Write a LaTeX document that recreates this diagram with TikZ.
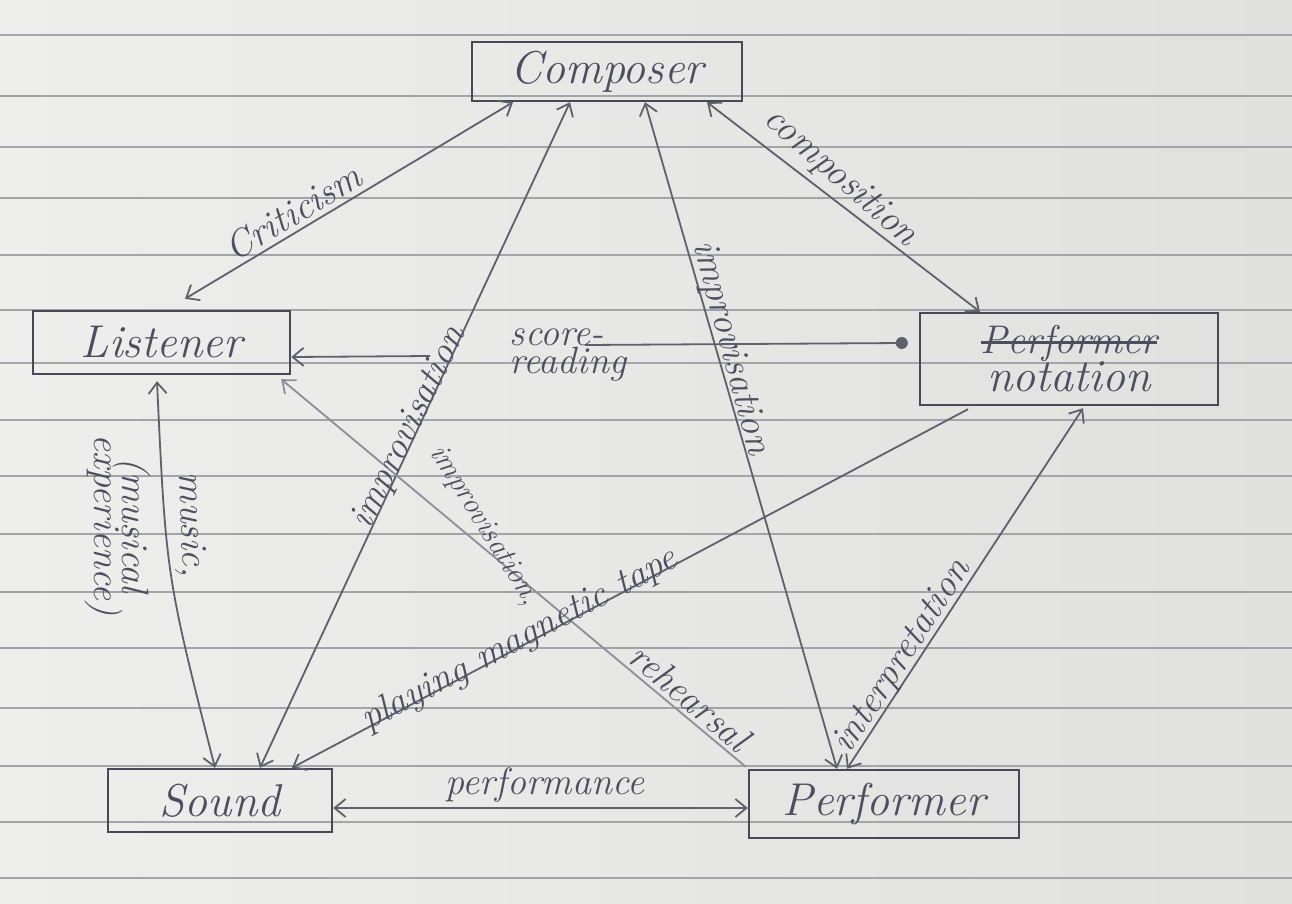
\documentclass[tikz,border=0pt]{standalone}
\usepackage{fontspec}
\usetikzlibrary{arrows.meta,calc}

\newlength\strkwd
\newcommand\strk[1]{\settowidth{\strkwd}{#1}\rlap{\rule[0.24em]{\strkwd}{3pt}}#1}

\definecolor{paperL}{RGB}{238,238,236}
\definecolor{paperR}{RGB}{224,224,223}
\definecolor{ruleline}{RGB}{163,164,170}
\definecolor{boxcol}{RGB}{72,72,88}
\definecolor{pencil}{RGB}{96,96,108}
\definecolor{pencilL}{RGB}{142,142,152}
\definecolor{inkcol}{RGB}{78,78,96}

\tikzset{
  box/.style={draw=boxcol, line width=2.4pt, rectangle, inner sep=0pt,
    font=\fontsize{46}{50}\selectfont\itshape, text=inkcol},
  lbl/.style={inner sep=0pt, font=\fontsize{38}{42}\selectfont\itshape, text=inkcol},
  smalllbl/.style={lbl, font=\fontsize{30}{34}\selectfont\itshape},
  conn/.style={draw=pencil, line width=1.8pt},
  >={Straight Barb[length=11pt,width=18pt]}
}

\begin{document}
\begin{tikzpicture}[x=1pt,y=1pt,yscale=-1,xscale=1]
    \useasboundingbox (0,0) rectangle (1292,903);

    % paper
    \shade[left color=paperL, right color=paperR] (0,0) rectangle (1292,903);
    \foreach \y in {35,96,147,198,255,310,363,420,476,534,592,648,708,766,822,878}
      \draw[ruleline, line width=1.4pt] (0,\y) -- (1292,\y);

    % Boxes
    \node[box, minimum width=270pt, minimum height=59pt] (comp) at (607,71.5) {Composer};
    \node[box, minimum width=257pt, minimum height=63pt] (lis) at (161.5,342.5) {Listener};
    \node[box, minimum width=298pt, minimum height=92pt, align=center] (nota) at (1069,359)
      {{\fontsize{40}{44}\selectfont\strk{Performer}}\\[-12pt]notation};
    \node[box, minimum width=224pt, minimum height=63pt] (snd) at (220,800.5) {Sound};
    \node[box, minimum width=270pt, minimum height=68pt] (perf) at (884,804) {Performer};

    % Connectors
    \draw[conn, <->] ($(comp.south)+(-94,0)$) -- ($(lis.north)+(23.5,-11)$);
    \draw[conn, <->] ($(comp.south)+(-37,0)$) -- ($(snd.north)+(40,0)$);
    \draw[conn, <->] ($(comp.south)+(38,0)$) -- ($(perf.north)+(-47,0)$);
    \draw[conn, <->] ($(comp.south)+(100,0)$) -- ($(nota.north)+(-89,0)$);
    \coordinate (srR) at (585,345);
    \coordinate (srL) at (430,356);
    \draw[conn] ($(nota.west)+(-17,-16)$) -- (srR);
    \draw[conn, ->] (srL) -- ($(lis.east)+(0,14.5)$);
    \fill[pencil] ($(nota.west)+(-17,-16)$) circle (6);
    \draw[conn, <->] ($(lis.south)+(-4.5,6)$) .. controls (166,575) .. ($(snd.north)+(-5,0)$);
    \draw[conn, draw=pencilL, <-] ($(lis.south east)+(-10,4)$) -- ($(perf.north west)+(-2,-2)$);
    \draw[conn, ->] ($(nota.south)+(-101,3)$) -- ($(snd.north)+(72,0)$);
    \draw[conn, <->] ($(nota.south)+(14,2)$) -- ($(perf.north)+(-37,0)$);
    \draw[conn, <->] ($(snd.east)+(0,7.5)$) -- ($(perf.west)+(0,4)$);

    % Text Nodes
    \node[lbl, rotate=31] (critlbl) at (293,212) {Criticism};
    \node[lbl, rotate=-41] (complbl) at (840,178) {composition};
    \node[lbl, rotate=64] (imp1lbl) at (410,428) {improvisation};
    \node[lbl, rotate=-75] (imp3lbl) at (730,348) {improvisation};
    \node[lbl, align=left] (scorelbl) at (568,355) {score-\\[-14pt]reading};
    \node[lbl, rotate=-88] (muslbl) at (190,525) {music,};
    \node[lbl, rotate=-90, align=center] (explbl) at (118,525) {(musical\\[-14pt]experience)};
    \node[smalllbl, rotate=-58] (imp2lbl) at (484,526) {improvisation,};
    \node[lbl, rotate=-40] (rehlbl) at (690,697) {rehearsal};
    \node[lbl, rotate=28] (tapelbl) at (520,640) {playing magnetic tape};
    \node[lbl, rotate=57] (intlbl) at (903,657) {interpretation};
    \node[lbl] (perflbl) at (545,785) {performance};

\end{tikzpicture}
\end{document}
